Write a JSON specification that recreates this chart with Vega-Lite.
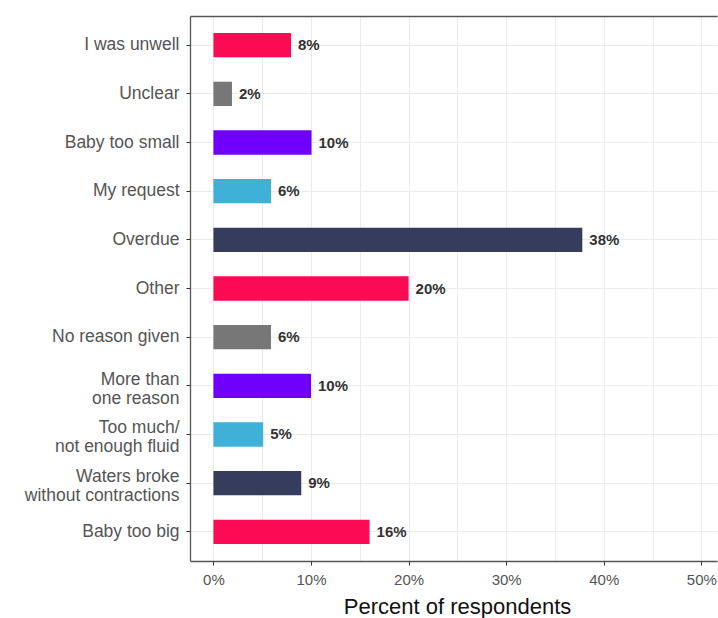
{
  "$schema": "https://vega.github.io/schema/vega-lite/v6.json",
  "width": 527,
  "height": 545,
  "autosize": "none",
  "padding": {"left": 190, "top": 16, "right": 1, "bottom": 57},
  "background": "white",
  "config": {"view": {"stroke": null}, "font": "Liberation Sans"},
  "data": {
    "values": [
      {"reason": "I was unwell", "pct": 0.0795},
      {"reason": "Unclear", "pct": 0.019},
      {"reason": "Baby too small", "pct": 0.1005},
      {"reason": "My request", "pct": 0.059},
      {"reason": "Overdue", "pct": 0.378},
      {"reason": "Other", "pct": 0.2},
      {"reason": "No reason given", "pct": 0.059},
      {"reason": "More than |one reason", "pct": 0.1},
      {"reason": "Too much/|not enough fluid", "pct": 0.051},
      {"reason": "Waters broke |without contractions", "pct": 0.09},
      {"reason": "Baby too big", "pct": 0.16}
    ]
  },
  "encoding": {
    "y": {
      "field": "reason",
      "type": "nominal",
      "sort": null,
      "scale": {"paddingInner": 0.5, "paddingOuter": 0.35},
      "axis": {
        "title": null,
        "bandPosition": 0.5,
        "grid": true,
        "gridColor": "#ebebeb",
        "gridWidth": 1,
        "domainColor": "#555555",
        "domainWidth": 1.3,
        "tickColor": "#333333",
        "tickSize": 4,
        "labelFontSize": 17.5,
        "labelColor": "#555555",
        "labelPadding": 7,
        "labelExpr": "split(datum.value, '|')",
        "labelLineHeight": 19,
        "labelOffset": {"condition": {"test": "indexof(datum.value, '|') >= 0", "value": -6}, "value": 0}
      }
    }
  },
  "layer": [
    {
      "mark": {"type": "bar"},
      "encoding": {
        "x": {
          "field": "pct",
          "type": "quantitative",
          "scale": {"domain": [-0.024, 0.516], "nice": false, "zero": false},
          "axis": {
            "orient": "bottom",
            "values": [0, 0.05, 0.1, 0.15, 0.2, 0.25, 0.3, 0.35, 0.4, 0.45, 0.5],
            "format": ".0%",
            "labelExpr": "round(datum.value * 100) % 10 == 0 ? datum.label : ''",
            "tickOpacity": {"condition": {"test": "round(datum.value * 100) % 10 != 0", "value": 0}, "value": 1},
            "grid": true,
            "gridColor": "#ebebeb",
            "gridWidth": 1,
            "domainColor": "#555555",
            "domainWidth": 1.3,
            "tickColor": "#333333",
            "tickSize": 4,
            "labelFontSize": 15,
            "labelColor": "#555555",
            "labelPadding": 7,
            "title": "Percent of respondents",
            "titleFontSize": 22,
            "titleFontWeight": "normal",
            "titleColor": "#111111",
            "titleX": 267,
            "titleY": 52,
            "titleAlign": "center",
            "titleBaseline": "alphabetic"
          }
        },
        "color": {
          "field": "reason",
          "type": "nominal",
          "sort": null,
          "scale": {
            "domain": ["I was unwell", "Unclear", "Baby too small", "My request", "Overdue", "Other", "No reason given", "More than |one reason", "Too much/|not enough fluid", "Waters broke |without contractions", "Baby too big"],
            "range": ["#fc0a53", "#777777", "#7000fc", "#3fb1d9", "#363d5c", "#fc0a53", "#777777", "#7000fc", "#3fb1d9", "#363d5c", "#fc0a53"]
          },
          "legend": null
        }
      }
    },
    {
      "mark": {"type": "text", "align": "left", "baseline": "middle", "dx": 7, "fontWeight": "bold", "fontSize": 15, "color": "#333333"},
      "encoding": {
        "x": {
          "field": "pct",
          "type": "quantitative",
          "axis": {"orient": "top", "labels": false, "ticks": false, "grid": false, "title": null, "domainColor": "#555555", "domainWidth": 1.3}
        },
        "text": {"field": "pct", "type": "quantitative", "format": ".0%"}
      }
    }
  ],
  "resolve": {"axis": {"x": "independent"}}
}
